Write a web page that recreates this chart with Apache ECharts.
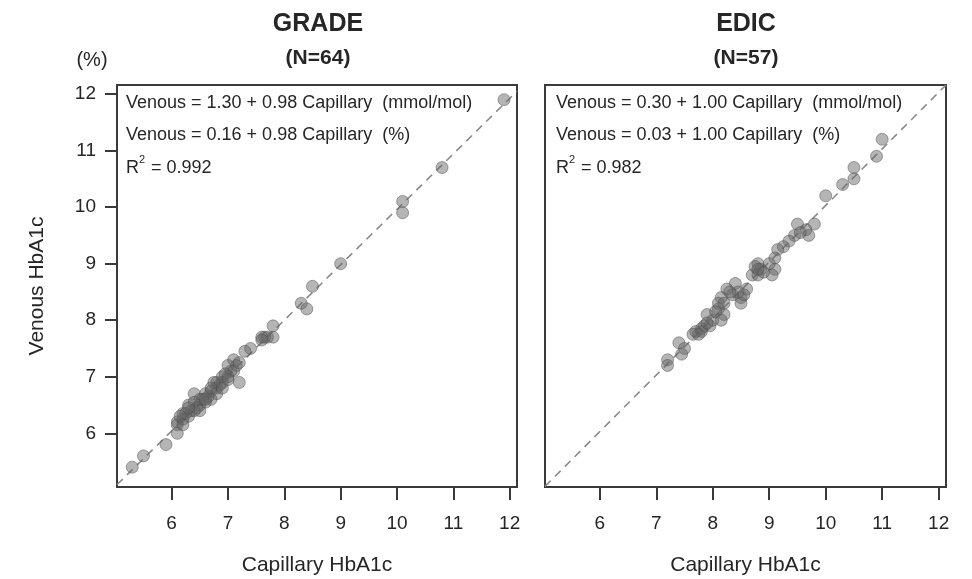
<!DOCTYPE html>
<html>
<head>
<meta charset="utf-8">
<script src="https://cdn.jsdelivr.net/npm/echarts@6/dist/echarts.min.js"></script>
<style>html,body{margin:0;padding:0;background:#fff}#c{width:972px;height:579px}</style>
</head>
<body>
<div id="c"></div>
<script>
// ---- data ----
var panelTitles = ['GRADE', 'EDIC'];
var panelN = ['(N=64)', '(N=57)'];
var tickValues = [6, 7, 8, 9, 10, 11, 12];
var xAxisName = 'Capillary HbA1c';
var yAxisName = 'Venous HbA1c';
var yUnit = '(%)';

// GRADE: [capillary, venous]
var gradePoints = [
  [11.9,11.9],[10.8,10.7],[10.1,10.1],[10.1,9.9],[9.0,9.0],[8.5,8.6],[8.3,8.3],[8.4,8.2],
  [7.8,7.9],[7.8,7.7],[7.65,7.7],[7.6,7.7],[7.7,7.7],[7.4,7.5],[7.3,7.45],[7.1,7.3],
  [7.15,7.2],[7.05,7.1],[7.2,6.9],[6.9,7.0],[6.8,6.9],[6.8,6.8],[6.7,6.75],[6.6,6.7],
  [6.4,6.7],[6.5,6.6],[6.4,6.55],[6.3,6.5],[6.35,6.4],[6.2,6.35],[6.1,6.2],[6.1,6.15],
  [6.1,6.0],[5.9,5.8],[5.5,5.6],[5.3,5.4],
  [7.0,7.2],[7.1,7.1],[7.0,7.0],[6.95,7.05],[6.9,6.9],[6.85,6.85],[6.75,6.9],[6.8,6.7],
  [6.7,6.6],[6.65,6.65],[6.6,6.55],[6.55,6.6],[6.5,6.5],[6.45,6.45],[6.5,6.4],[6.4,6.4],
  [6.3,6.3],[6.25,6.35],[6.2,6.25],[6.15,6.3],[6.2,6.15],[6.3,6.45],[6.6,6.6],[6.7,6.8],
  [6.9,6.8],[7.0,6.95],[7.2,7.25],[7.6,7.65]
];
// EDIC: [capillary, venous]
var edicPoints = [
  [11.0,11.2],[10.9,10.9],[10.5,10.7],[10.5,10.5],[10.3,10.4],[10.0,10.2],[9.5,9.7],[9.8,9.7],
  [9.65,9.6],[9.7,9.5],[9.45,9.5],[9.35,9.4],[9.25,9.3],[9.15,9.25],[9.1,9.1],[8.8,9.0],
  [8.85,8.9],[9.1,8.9],[8.7,8.8],[9.05,8.8],[8.8,8.8],[8.4,8.65],[8.25,8.55],[8.6,8.55],
  [8.35,8.45],[8.5,8.4],[8.15,8.4],[8.5,8.3],[8.1,8.3],[8.1,8.2],[8.2,8.1],[7.9,8.1],
  [8.15,8.0],[7.85,7.9],[7.7,7.8],[7.8,7.8],[7.95,7.9],[7.65,7.75],[7.4,7.6],[7.5,7.5],
  [7.45,7.4],[7.2,7.3],[7.2,7.2],
  [8.75,8.95],[8.9,8.85],[8.8,8.9],[9.0,9.0],[8.45,8.5],[8.3,8.5],[8.55,8.45],[8.2,8.3],
  [8.0,8.0],[7.8,7.85],[7.75,7.75],[7.9,7.95],[8.05,8.15],[9.55,9.55]
];
// regression lines (endpoints): Venous = a + b*Capillary
var gradeLine = [[5.03,5.09],[12.13,12.05]];
var edicLine = [[5.03,5.06],[12.13,12.16]];

var gradeEq = ['Venous = 1.30 + 0.98 Capillary  (mmol/mol)', 'Venous = 0.16 + 0.98 Capillary  (%)', '0.992'];
var edicEq = ['Venous = 0.30 + 1.00 Capillary  (mmol/mol)', 'Venous = 0.03 + 1.00 Capillary  (%)', '0.982'];

// ---- chart ----
var FONT = '"Liberation Sans", Arial, Helvetica, sans-serif';
var TXT = '#262626';
var chart = echarts.init(document.getElementById('c'), null, {renderer: 'canvas'});

var grids = [
  {left: 117, top: 85, width: 400, height: 402},
  {left: 545, top: 85, width: 401, height: 402}
];
grids.forEach(function (g) {
  g.show = true; g.borderColor = '#3a3a3a'; g.borderWidth = 2; g.backgroundColor = '#fff';
  g.containLabel = false; g.outerBoundsMode = 'none';
});

function xAx(i) {
  return {
    gridIndex: i, type: 'value', min: 5.03, max: 12.13,
    splitLine: {show: false},
    axisLine: {show: true, onZero: false, lineStyle: {color: '#3a3a3a', width: 2}},
    axisTick: {show: true, length: 13, lineStyle: {color: '#3a3a3a', width: 2}, customValues: tickValues},
    axisLabel: {customValues: tickValues, fontSize: 19, color: TXT, fontFamily: FONT, margin: 27},
    name: xAxisName, nameLocation: 'middle', nameGap: 68,
    nameTextStyle: {fontSize: 21, color: TXT, fontFamily: FONT}
  };
}
function yAx(i) {
  var show = i === 0;
  return {
    gridIndex: i, type: 'value', min: 5.05, max: 12.16,
    splitLine: {show: false},
    axisLine: {show: true, onZero: false, lineStyle: {color: '#3a3a3a', width: 2}},
    axisTick: {show: show, length: 12, lineStyle: {color: '#3a3a3a', width: 2}, customValues: tickValues},
    axisLabel: {show: show, customValues: tickValues, fontSize: 19, color: TXT, fontFamily: FONT, margin: 21},
    name: show ? yAxisName : '', nameLocation: 'middle', nameGap: 69,
    nameTextStyle: {fontSize: 21, color: TXT, fontFamily: FONT}
  };
}

var dotStyle = {color: 'rgba(100,100,100,0.6)', borderColor: 'rgba(75,75,75,0.6)', borderWidth: 1};
function scatter(i, d) {
  return {type: 'scatter', xAxisIndex: i, yAxisIndex: i, data: d, symbolSize: 12,
    itemStyle: dotStyle, z: 3, silent: true};
}
function line(i, d) {
  return {type: 'line', xAxisIndex: i, yAxisIndex: i, data: d, symbol: 'none',
    lineStyle: {color: '#8a8a8a', width: 1.6, type: [8, 6]}, z: 2, silent: true, clip: true};
}

var graphics = [];
function txt(x, y, s, size, bold, align) {
  graphics.push({type: 'text', x: x, y: y, z: 10, style: {
    text: s, fontSize: size, fontWeight: bold ? 'bold' : 'normal', fontFamily: FONT,
    fill: TXT, textAlign: align || 'left', textVerticalAlign: 'middle'}});
}
var centers = [318, 746];
[0, 1].forEach(function (i) {
  txt(centers[i], 24, panelTitles[i], 25, true, 'center');
  txt(centers[i], 58, panelN[i], 21, true, 'center');
  var eq = i === 0 ? gradeEq : edicEq;
  var x0 = i === 0 ? 126 : 556;
  txt(x0, 103, eq[0], 18);
  txt(x0, 135, eq[1], 18);
  txt(x0, 168, 'R', 18);
  txt(x0 + 13, 160, '2', 11);
  txt(x0 + 20, 168, ' = ' + eq[2], 18);
});
txt(92, 60, yUnit, 20, false, 'center');

chart.setOption({
  backgroundColor: '#fff',
  animation: false,
  grid: grids,
  xAxis: [xAx(0), xAx(1)],
  yAxis: [yAx(0), yAx(1)],
  series: [line(0, gradeLine), scatter(0, gradePoints), line(1, edicLine), scatter(1, edicPoints)],
  graphic: graphics
});
</script>
</body>
</html>
